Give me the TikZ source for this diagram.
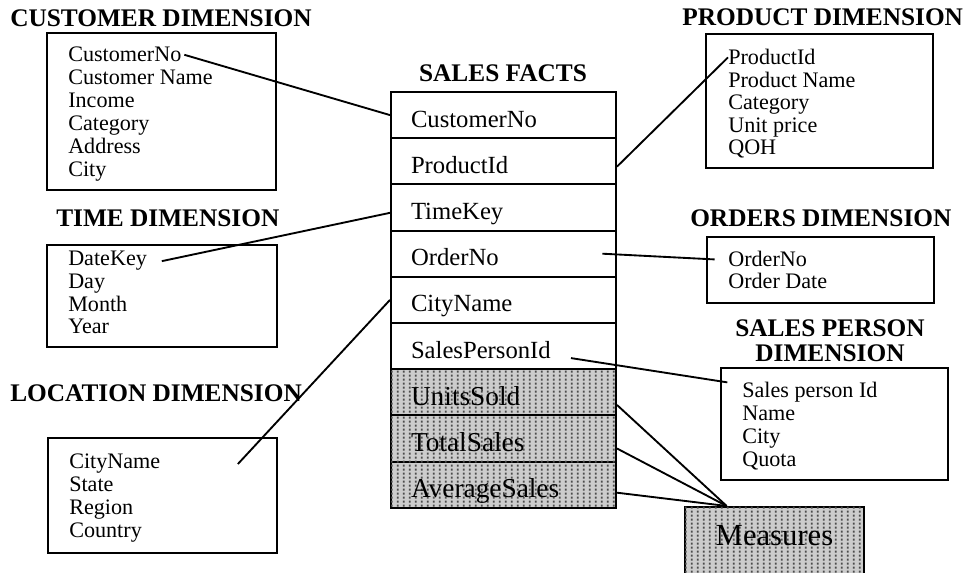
\documentclass[tikz,border=0pt]{standalone}
\usepackage{fontspec}
\setmainfont{Liberation Serif}
\usetikzlibrary{fit,patterns.meta}

% fine columns of small marks used as the screen for the measure cells
\tikzdeclarepattern{
  name=typegrid,
  type=uncolored,
  bounding box={(0pt,0pt) and (4.5pt,2.6pt)},
  tile size={(4.5pt,2.6pt)},
  code={\fill (0.8pt,0.4pt) rectangle (2.3pt,2.1pt);}
}

\begin{document}
\begin{tikzpicture}[x=0.75pt,y=-0.75pt,
  heading/.style={font=\fontsize{19}{21}\selectfont\bfseries, inner sep=0pt},
  attr/.style={font=\fontsize{16.6}{18}\selectfont, inner sep=0pt, anchor=base west},
  dimbox/.style={draw, line width=1.5pt, inner sep=0pt},
  factrow/.style={draw, line width=1.5pt, minimum width=168.75pt, minimum height=34.65pt,
    text width=138.75pt, inner xsep=15pt, inner ysep=0pt, align=left,
    font=\fontsize{18.5}{20}\selectfont, text height=18pt, text depth=0pt},
  screened/.style={fill=black!20, postaction={pattern={typegrid}, pattern color=black!70}},
  measrow/.style={factrow, screened, font=\fontsize{20.5}{22}\selectfont, text height=19.5pt},
  link/.style={line width=1.4pt}
]
\useasboundingbox (0,0) rectangle (965,573);

% ---------- headings ----------
\node[heading, anchor=base west] (custT) at (10,27)  {CUSTOMER DIMENSION};
\node[heading, anchor=base west] (prodT) at (682,26) {PRODUCT DIMENSION};
\node[heading, anchor=base]      (factT) at (503,82) {SALES FACTS};
\node[heading, anchor=base west] (timeT) at (56,227) {TIME DIMENSION};
\node[heading, anchor=base west] (ordT)  at (690,227) {ORDERS DIMENSION};
\node[heading, anchor=base]      (spT1)  at (830,337) {SALES PERSON};
\node[heading, anchor=base]      (spT2)  at (830,362) {DIMENSION};
\node[heading, anchor=base west] (locT)  at (10,402) {LOCATION DIMENSION};

% ---------- dimension boxes ----------
\node[dimbox, fit={(47,33) (276,190)}]  (custbox) {};
\node[dimbox, fit={(706,34) (933,168)}] (prodbox) {};
\node[dimbox, fit={(47,245) (277,347)}] (timebox) {};
\node[dimbox, fit={(48,438) (277,553)}] (locbox)  {};
\node[dimbox, fit={(707,237) (934,303)}] (ordbox) {};
\node[dimbox, fit={(721,368) (948,480)}] (spbox)  {};

% customer attributes
\node[attr] (cno)   at (68,62)  {CustomerNo};
\node[attr] (cname) at (68,85)  {Customer Name};
\node[attr] (cinc)  at (68,108) {Income};
\node[attr] (ccat)  at (68,131) {Category};
\node[attr] (caddr) at (68,154) {Address};
\node[attr] (ccity) at (68,177) {City};

% product attributes
\node[attr] (pid)   at (728,65)  {ProductId};
\node[attr] (pname) at (728,88)  {Product Name};
\node[attr] (pcat)  at (728,110) {Category};
\node[attr] (pup)   at (728,133) {Unit price};
\node[attr] (pqoh)  at (728,155) {QOH};

% time attributes
\node[attr] (dk)    at (68,266) {DateKey};
\node[attr] (dday)  at (68,289) {Day};
\node[attr] (dmon)  at (68,312) {Month};
\node[attr] (dyear) at (68,334) {Year};

% location attributes
\node[attr] (cn)    at (69,469) {CityName};
\node[attr] (lst)   at (69,492) {State};
\node[attr] (lreg)  at (69,515) {Region};
\node[attr] (lctry) at (69,538) {Country};

% orders attributes
\node[attr] (on)    at (728,267) {OrderNo};
\node[attr] (odate) at (728,289) {Order Date};

% sales person attributes
\node[attr] (spid)  at (742,398) {Sales person Id};
\node[attr] (spnm)  at (742,421) {Name};
\node[attr] (spcty) at (742,444) {City};
\node[attr] (spq)   at (742,467) {Quota};

% ---------- fact table ----------
\node[factrow] (f1) at (503.5,115.1) {CustomerNo};
\node[factrow] (f2) at (503.5,161.3) {ProductId};
\node[factrow] (f3) at (503.5,207.5) {TimeKey};
\node[factrow] (f4) at (503.5,253.7) {OrderNo};
\node[factrow] (f5) at (503.5,299.9) {CityName};
\node[factrow] (f6) at (503.5,346.1) {SalesPersonId};
\node[measrow] (f7) at (503.5,392.3) {UnitsSold};
\node[measrow] (f8) at (503.5,438.5) {TotalSales};
\node[measrow] (f9) at (503.5,484.7) {AverageSales};

% ---------- measures block (runs off the lower edge) ----------
\begin{scope}
  \clip (0,0) rectangle (965,573);
  \node[draw, line width=1.5pt, screened, minimum width=134.25pt, minimum height=51pt,
        inner sep=0pt, font=\fontsize{23}{25}\selectfont, text height=16pt, text depth=9pt]
        (meas) at (774.5,541) {Measures};
\end{scope}

% ---------- key links ----------
\draw[link] ([xshift=2pt]cno.east) -- (f1.west);
\draw[link] (pid.west) -- ([yshift=-4pt]f2.east);
\draw[link] ([xshift=11pt]dk.east) -- ([yshift=-4pt]f3.west);
\draw[link] ([xshift=-11pt]f4.east) -- ([xshift=-10pt]on.west);
\draw[link] (f5.west) -- ([xshift=58pt]cn.east);
\draw[link] ([xshift=-34.5pt,yshift=-9pt]f6.east) -- ([xshift=-11pt]spid.north west);

% ---------- measure links ----------
\draw[link] ([yshift=-9.5pt]f7.east) -- ([xshift=32pt]meas.north west);
\draw[link] ([yshift=-7.5pt]f8.east) -- ([xshift=32pt]meas.north west);
\draw[link] ([yshift=-6pt]f9.east)   -- ([xshift=32pt]meas.north west);
\end{tikzpicture}
\end{document}
